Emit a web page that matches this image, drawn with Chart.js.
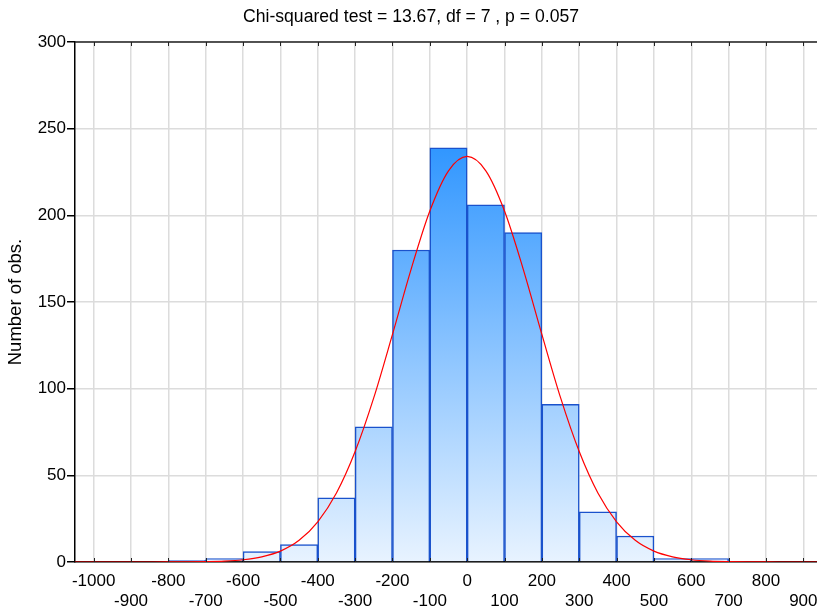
<!DOCTYPE html>
<html>
<head>
<meta charset="utf-8">
<script src="https://cdn.jsdelivr.net/npm/chart.js@4/dist/chart.umd.min.js"></script>
<style>
  html, body { margin: 0; padding: 0; background: #fff; overflow: hidden; }
  canvas { display: block; }
</style>
</head>
<body>
<canvas id="grafHist" width="822" height="611"></canvas>
<script>
// histogram bins (left edge of each bin, width 100)
const binStart = [-800, -700, -600, -500, -400, -300, -200, -100, 0, 100, 200, 300, 400, 500, 600]
const counts = [1, 2, 6, 10, 37, 78, 180, 239, 206, 190, 91, 29, 15, 2, 2]
const binWidth = 100

// fitted normal curve, every 50 units
const curveX = [-1050, -1000, -950, -900, -850, -800, -750, -700, -650, -600, -550, -500, -450, -400,
  -350, -300, -250, -200, -150, -100, -50, 0, 50, 100, 150, 200, 250, 300, 350, 400, 450, 500,
  550, 600, 650, 700, 750, 800, 850, 900, 950]
const curveY = [0, 0, 0, 0, 0, 0.02, 0.07, 0.2, 0.5, 1.3, 3, 6.3, 12.5, 23.2,
  39.8, 63.7, 94.8, 131.3, 169, 202.5, 225.7, 234, 225.7, 202.5, 169, 131.3, 94.8, 63.7, 39.8, 23.2, 12.5, 6.3,
  3, 1.3, 0.5, 0.2, 0.07, 0.02, 0, 0, 0]

// x tick labels, drawn in two staggered rows
const xTicks = [-1000, -900, -800, -700, -600, -500, -400, -300, -200, -100, 0,
  100, 200, 300, 400, 500, 600, 700, 800, 900]

const xMin = -1050
const xMax = 950
const yMax = 300
const yStep = 50
const titleText = 'Chi-squared test = 13.67, df = 7 , p = 0.057'
const yTitle = 'Number of obs.'

const ctxHist = document.getElementById('grafHist')

Chart.defaults.font.family = "'Liberation Sans', Arial, sans-serif"
Chart.defaults.color = '#000'

// top border + small inward ticks on the x axis
const framePlugin = {
  id: 'frame',
  afterDraw(chart) {
    const { ctx, chartArea: a } = chart
    const x = chart.scales.x
    ctx.save()
    ctx.strokeStyle = '#222'
    ctx.lineWidth = 1.5
    ctx.beginPath()
    ctx.moveTo(a.left, a.top)
    ctx.lineTo(a.right, a.top)
    ctx.stroke()
    ctx.lineWidth = 1
    ctx.beginPath()
    x.ticks.forEach(t => {
      const px = Math.round(x.getPixelForValue(t.value)) + 0.5
      ctx.moveTo(px, a.top)
      ctx.lineTo(px, a.top + 4)
      ctx.moveTo(px, a.bottom)
      ctx.lineTo(px, a.bottom - 4)
    })
    ctx.stroke()
    ctx.restore()
  }
}

function barGradient(context) {
  const chart = context.chart
  if (!chart.chartArea) return '#8cc4ff'
  const y = chart.scales.y
  const g = chart.ctx.createLinearGradient(0, y.getPixelForValue(240), 0, y.getPixelForValue(0))
  g.addColorStop(0, '#3096ff')
  g.addColorStop(1, '#e8f3ff')
  return g
}

new Chart(ctxHist, {
  type: 'bar',
  data: {
    datasets: [{
      type: 'line',
      data: curveX.map((v, i) => ({ x: v, y: curveY[i] })),
      borderColor: '#ff0000',
      borderWidth: 1.2,
      pointRadius: 0,
      cubicInterpolationMode: 'monotone',
      fill: false,
      order: 0
    }, {
      type: 'bar',
      data: binStart.map((v, i) => ({ x: v + binWidth / 2, y: counts[i] })),
      backgroundColor: barGradient,
      borderColor: '#1a52cc',
      borderWidth: 1.5,
      borderSkipped: 'bottom',
      barPercentage: 1,
      categoryPercentage: 1,
      order: 1
    }]
  },
  plugins: [framePlugin],
  options: {
    responsive: false,
    animation: false,
    layout: {
      padding: 0
    },
    plugins: {
      legend: {
        display: false
      },
      tooltip: {
        enabled: false
      },
      title: {
        display: true,
        text: titleText,
        color: '#000',
        font: {
          size: 17.6,
          weight: 'normal'
        },
        padding: { top: 7, bottom: 13.9 }
      }
    },
    scales: {
      x: {
        type: 'linear',
        min: xMin,
        max: xMax,
        offset: false,
        grid: {
          color: '#dcdcdc',
          lineWidth: 1.5,
          drawTicks: false,
          offset: false
        },
        border: {
          color: '#000',
          width: 1.5
        },
        ticks: {
          autoSkip: false,
          maxRotation: 0,
          minRotation: 0,
          padding: 9,
          font: {
            size: 17,
            lineHeight: 1.18
          },
          callback: (v) => (Math.abs(v / 100) % 2 === 0 ? [String(v), ''] : ['', String(v)])
        },
        afterBuildTicks: (scale) => {
          scale.ticks = xTicks.map(v => ({ value: v }))
        },
        afterFit: (scale) => {
          scale.height = 49
          scale.paddingLeft = 0
          scale.paddingRight = 0
        }
      },
      y: {
        min: 0,
        max: yMax,
        grid: {
          color: '#dcdcdc',
          lineWidth: 1.5,
          drawTicks: true,
          tickLength: 8,
          tickColor: '#000'
        },
        border: {
          color: '#000',
          width: 1.5
        },
        ticks: {
          stepSize: yStep,
          padding: 1,
          font: {
            size: 17
          }
        },
        title: {
          display: true,
          text: yTitle,
          color: '#000',
          font: {
            size: 18.5
          },
          padding: { top: 5, bottom: 0 }
        },
        afterFit: (scale) => {
          scale.width = 75
          scale.paddingTop = 0
          scale.paddingBottom = 0
        }
      }
    }
  }
});
</script>
</body>
</html>
